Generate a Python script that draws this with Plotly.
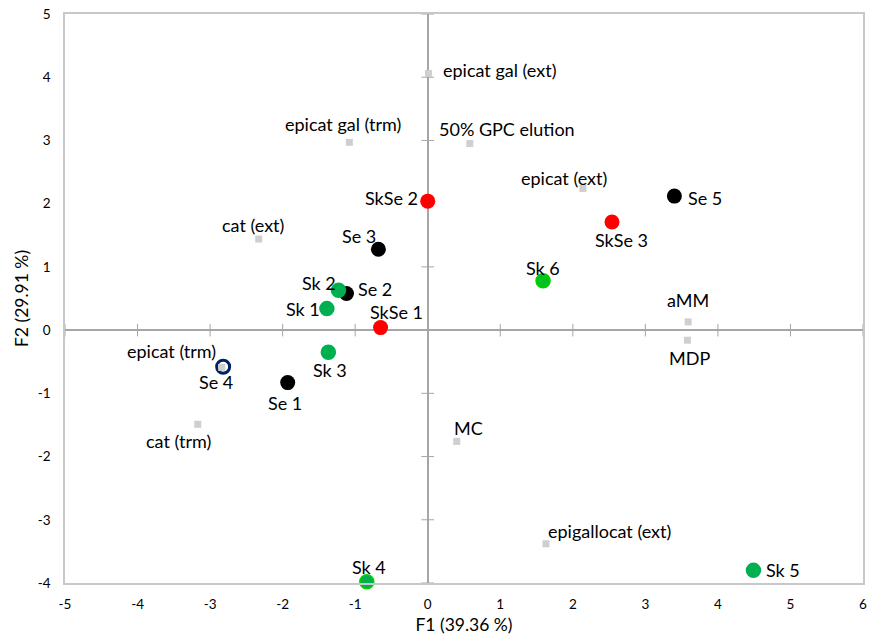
import plotly.graph_objects as go

# ---- data ----
var_names = ["epicat gal (ext)", "epicat gal (trm)", "50% GPC elution", "epicat (ext)",
             "cat (ext)", "aMM", "MDP", "epicat (trm)", "cat (trm)", "MC", "epigallocat (ext)"]
var_x = [0.01, -1.08, 0.58, 2.14, -2.33, 3.59, 3.58, -2.84, -3.17, 0.40, 1.63]
var_y = [4.06, 2.97, 2.95, 2.24, 1.44, 0.13, -0.16, -0.59, -1.49, -1.76, -3.38]

se_names = ["Se 1", "Se 2", "Se 3", "Se 5"]
se_x = [-1.93, -1.12, -0.68, 3.40]
se_y = [-0.83, 0.58, 1.28, 2.12]

se4_names = ["Se 4"]
se4_x = [-2.82]
se4_y = [-0.58]

sk_names = ["Sk 1", "Sk 2", "Sk 3", "Sk 4", "Sk 5", "Sk 6"]
sk_x = [-1.39, -1.23, -1.37, -0.84, 4.49, 1.59]
sk_y = [0.34, 0.63, -0.35, -3.98, -3.80, 0.78]

skse_names = ["SkSe 1", "SkSe 2", "SkSe 3"]
skse_x = [-0.65, 0.00, 2.54]
skse_y = [0.04, 2.04, 1.71]

x_ticks = [-5, -4, -3, -2, -1, 0, 1, 2, 3, 4, 5, 6]
x_tick_labels = ["-5", "-4", "-3", "-2", "-1", "0", "1", "2", "3", "4", "5", "6"]
y_ticks = [-4, -3, -2, -1, 0, 1, 2, 3, 4, 5]
y_tick_labels = ["-4", "-3", "-2", "-1", "0", "1", "2", "3", "4", "5"]

x_title = "F1 (39.36 %)"
y_title = "F2 (29.91 %)"

# ---- label placement (pixel shifts, style only) ----
label_shift = {
    "epicat gal (ext)": (71, 3), "epicat gal (trm)": (-6, 18), "50% GPC elution": (37, 15),
    "epicat (ext)": (-19, 10), "cat (ext)": (-6, 14), "aMM": (0, 22), "MDP": (2, -18),
    "epicat (trm)": (-50, 16), "cat (trm)": (-19, -17), "MC": (12, 13),
    "epigallocat (ext)": (64, 13),
    "SkSe 2": (-36, 3), "Se 3": (-19, 13), "Sk 2": (-20, 7), "Se 2": (29, 4),
    "Sk 1": (-24, 0), "SkSe 1": (16, 16), "Sk 6": (0, 13), "Se 5": (31, -2),
    "SkSe 3": (10, -18), "Se 4": (-7, -15), "Se 1": (-3, -20), "Sk 3": (2, -18),
    "Sk 4": (2, 15), "Sk 5": (30, 0),
}

FONT = "Lato, Calibri, Carlito, sans-serif"
AXIS_GRAY = "#A6A6A6"

fig = go.Figure()

# tick marks crossing the zero axes
fig.add_trace(go.Scatter(x=x_ticks, y=[0] * len(x_ticks), mode="markers",
                         marker=dict(symbol="line-ns-open", size=9, color=AXIS_GRAY,
                                     line=dict(color=AXIS_GRAY, width=1)),
                         hoverinfo="skip", cliponaxis=False))
fig.add_trace(go.Scatter(x=[0] * len(y_ticks), y=y_ticks, mode="markers",
                         marker=dict(symbol="line-ew-open", size=9, color=AXIS_GRAY,
                                     line=dict(color=AXIS_GRAY, width=1)),
                         hoverinfo="skip", cliponaxis=False))

# observations
fig.add_trace(go.Scatter(x=se_x, y=se_y, mode="markers", name="Se",
                         marker=dict(size=15, color="#000000"), cliponaxis=False))
fig.add_trace(go.Scatter(x=se4_x, y=se4_y, mode="markers", name="Se 4",
                         marker=dict(size=13, color="#FFFFFF",
                                     line=dict(color="#002060", width=3)), cliponaxis=False))
sk_fill = ["#00B050", "#00B050", "#00B050", "#00B050", "#00B050", "#00C41E"]
sk_line = ["#00B050", "#00B050", "#00B050", "#00D400", "#00B050", "#00CC00"]
fig.add_trace(go.Scatter(x=sk_x, y=sk_y, mode="markers", name="Sk",
                         marker=dict(size=14, color=sk_fill,
                                     line=dict(color=sk_line, width=1.5)), cliponaxis=False))
fig.add_trace(go.Scatter(x=skse_x, y=skse_y, mode="markers", name="SkSe",
                         marker=dict(size=15, color="#FF0000"), cliponaxis=False))

# variables
fig.add_trace(go.Scatter(x=var_x, y=var_y, mode="markers", name="variables",
                         marker=dict(symbol="square", size=7, color="#CFCFCF"), cliponaxis=False))

for names, xs, ys in [(var_names, var_x, var_y), (se_names, se_x, se_y),
                      (se4_names, se4_x, se4_y), (sk_names, sk_x, sk_y),
                      (skse_names, skse_x, skse_y)]:
    for n, xv, yv in zip(names, xs, ys):
        dx, dy = label_shift[n]
        fig.add_annotation(x=xv, y=yv, text=n, showarrow=False, xanchor="center",
                           yanchor="middle", xshift=dx, yshift=dy,
                           font=dict(family=FONT, size=18, color="#000000"))

fig.update_layout(
    width=873, height=640,
    margin=dict(l=65, r=10, t=14, b=57),
    paper_bgcolor="white", plot_bgcolor="white",
    showlegend=False,
    font=dict(family=FONT, color="#000000"),
    xaxis=dict(range=[-5, 6], tickvals=x_ticks, ticktext=x_tick_labels,
               showgrid=False, automargin=False,
               zeroline=True, zerolinecolor=AXIS_GRAY, zerolinewidth=1.5,
               showline=True, mirror=True, linecolor="#C8C8C8", linewidth=1.5,
               ticks="", ticklabelstandoff=8,
               tickfont=dict(family=FONT, size=13.5, color="#000000"),
               title=dict(text=x_title, font=dict(family=FONT, size=17.5, color="#000000"),
                          standoff=8)),
    yaxis=dict(range=[-4, 5], tickvals=y_ticks, ticktext=y_tick_labels,
               showgrid=False, automargin=False,
               zeroline=True, zerolinecolor=AXIS_GRAY, zerolinewidth=1.5,
               showline=True, mirror=True, linecolor="#C8C8C8", linewidth=1.5,
               ticks="", ticklabelstandoff=10,
               tickfont=dict(family=FONT, size=13.5, color="#000000"),
               title=dict(text=y_title, font=dict(family=FONT, size=17.5, color="#000000"),
                          standoff=5)),
)

fig.write_html("out.html", config={"displayModeBar": False},
               post_script="document.body.style.margin='0';")
